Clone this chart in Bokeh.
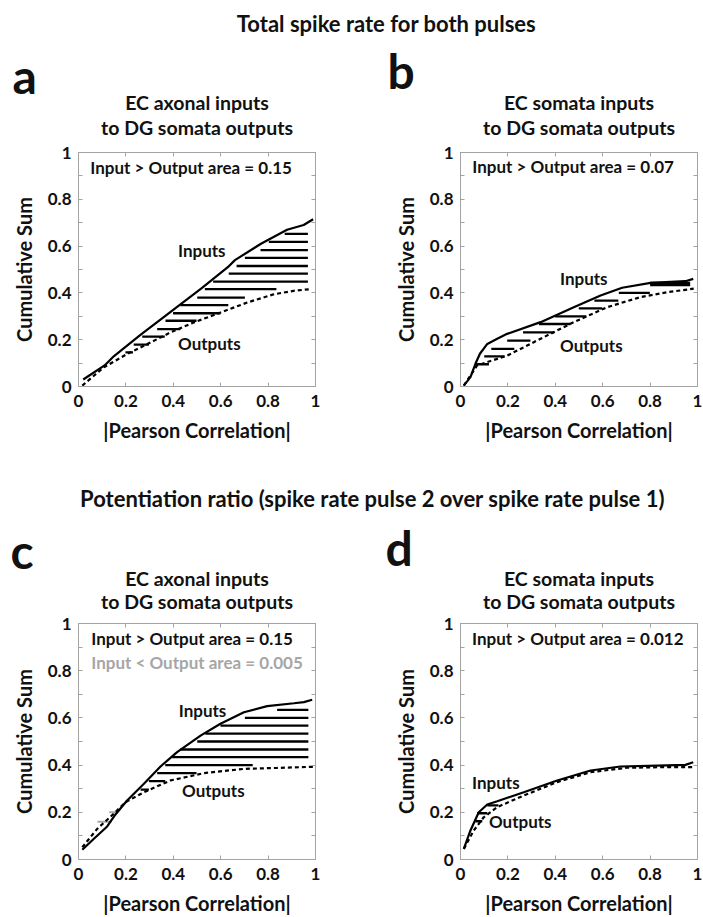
from bokeh.plotting import figure
from bokeh.layouts import column, row
from bokeh.models import Range1d, LinearAxis, FixedTicker, Label
from bokeh.embed import file_html
from bokeh.resources import INLINE

FONT = "Lato"
FRAME = "#a3a3a3"
LIGHT = "#a6a6a6"
INK = "#111111"

# ---------------- data ----------------
TICKS = [0, 0.2, 0.4, 0.6, 0.8, 1]
TICK_LABELS = ["0", "0.2", "0.4", "0.6", "0.8", "1"]
MINOR_Y = [0.1, 0.3, 0.5, 0.7, 0.9]

TITLE_TOP = "Total spike rate for both pulses"
TITLE_BOTTOM = "Potentiation ratio (spike rate pulse 2 over spike rate pulse 1)"
SUB_AXONAL = ["EC axonal inputs", "to DG somata outputs"]
SUB_SOMATA = ["EC somata inputs", "to DG somata outputs"]
X_LABEL = "|Pearson Correlation|"
Y_LABEL = "Cumulative Sum"

# panel a
a_in_x = [0.02, 0.11, 0.15, 0.26, 0.39, 0.52, 0.63, 0.66, 0.77, 0.88, 0.95, 0.99]
a_in_y = [0.03, 0.09, 0.13, 0.22, 0.32, 0.42, 0.51, 0.54, 0.61, 0.67, 0.69, 0.715]
a_out_x = [0.016, 0.107, 0.205, 0.276, 0.388, 0.487, 0.599, 0.712, 0.824, 0.908, 0.979]
a_out_y = [0.004, 0.082, 0.139, 0.174, 0.231, 0.274, 0.316, 0.359, 0.394, 0.409, 0.416]
a_hatch_y = [0.146, 0.179, 0.213, 0.245, 0.281, 0.313, 0.348, 0.380, 0.416, 0.448, 0.482, 0.515, 0.550, 0.583, 0.618, 0.652]
a_hatch_x0 = [0.198, 0.233, 0.269, 0.332, 0.367, 0.399, 0.430, 0.501, 0.533, 0.568, 0.634, 0.667, 0.702, 0.768, 0.803, 0.870]
a_hatch_x1 = [0.230, 0.297, 0.364, 0.430, 0.498, 0.599, 0.632, 0.702, 0.835, 0.968, 0.968, 0.968, 0.968, 0.968, 0.968, 0.968]

# panel b
b_in_x = [0.014, 0.042, 0.063, 0.082, 0.113, 0.155, 0.197, 0.338, 0.478, 0.591, 0.682, 0.802, 0.949, 0.982]
b_in_y = [0.004, 0.04, 0.097, 0.14, 0.182, 0.204, 0.225, 0.275, 0.339, 0.389, 0.422, 0.443, 0.45, 0.46]
b_out_x = [0.014, 0.07, 0.197, 0.338, 0.478, 0.619, 0.759, 0.872, 0.984]
b_out_y = [0.004, 0.09, 0.132, 0.204, 0.275, 0.339, 0.382, 0.403, 0.418]
b_hatch_y = [0.095, 0.129, 0.161, 0.196, 0.231, 0.267, 0.300, 0.334, 0.367, 0.400, 0.433, 0.443]
b_hatch_x0 = [0.066, 0.100, 0.130, 0.197, 0.264, 0.331, 0.399, 0.499, 0.565, 0.668, 0.800, 0.800]
b_hatch_x1 = [0.120, 0.186, 0.227, 0.295, 0.395, 0.464, 0.531, 0.598, 0.666, 0.799, 0.969, 0.969]

# panel c
c_in_x = [0.016, 0.065, 0.121, 0.156, 0.205, 0.276, 0.346, 0.416, 0.515, 0.599, 0.698, 0.796, 0.909, 0.951, 0.986]
c_in_y = [0.041, 0.088, 0.14, 0.191, 0.25, 0.321, 0.394, 0.455, 0.525, 0.575, 0.624, 0.65, 0.662, 0.667, 0.677]
c_out_x = [0.016, 0.079, 0.149, 0.198, 0.276, 0.388, 0.529, 0.698, 0.838, 0.993]
c_out_y = [0.052, 0.13, 0.194, 0.243, 0.285, 0.335, 0.366, 0.384, 0.388, 0.393]
c_hatch_y = [0.296, 0.332, 0.366, 0.400, 0.434, 0.466, 0.500, 0.533, 0.567, 0.600, 0.634]
c_hatch_x0 = [0.262, 0.297, 0.332, 0.366, 0.395, 0.430, 0.501, 0.535, 0.599, 0.702, 0.838]
c_hatch_x1 = [0.297, 0.366, 0.498, 0.735, 0.970, 0.970, 0.970, 0.970, 0.970, 0.970, 0.970]
c_ghatch_y = [0.16, 0.20]
c_ghatch_x0 = [0.08, 0.13]
c_ghatch_x1 = [0.14, 0.16]

# panel d
d_in_x = [0.014, 0.042, 0.077, 0.113, 0.155, 0.267, 0.408, 0.549, 0.675, 0.83, 0.949, 0.982]
d_in_y = [0.045, 0.123, 0.2, 0.233, 0.247, 0.285, 0.335, 0.377, 0.394, 0.398, 0.401, 0.412]
d_out_x = [0.014, 0.056, 0.098, 0.155, 0.267, 0.408, 0.549, 0.703, 0.844, 0.984]
d_out_y = [0.045, 0.123, 0.179, 0.222, 0.271, 0.328, 0.37, 0.389, 0.391, 0.391]
d_hatch_y = [0.162, 0.196, 0.229]
d_hatch_x0 = [0.063, 0.070, 0.113]
d_hatch_x1 = [0.092, 0.113, 0.160]


def hide_labels(ax):
    ax.major_label_text_font_size = "0px"
    ax.major_label_text_alpha = 0
    ax.major_label_standoff = 0


def style_ticks(ax):
    ax.axis_line_color = FRAME
    ax.major_tick_line_color = FRAME
    ax.minor_tick_line_color = FRAME
    ax.major_tick_in = 4
    ax.major_tick_out = 0
    ax.minor_tick_in = 4
    ax.minor_tick_out = 0


def style_axis(ax, label, standoff, label_standoff):
    ax.major_label_text_font = FONT
    ax.major_label_text_font_style = "bold"
    ax.major_label_text_font_size = "17px"
    ax.major_label_text_color = INK
    ax.major_label_standoff = standoff
    ax.axis_label = label
    ax.axis_label_text_font = FONT
    ax.axis_label_text_font_style = "bold"
    ax.axis_label_text_font_size = "20px"
    ax.axis_label_text_color = INK
    ax.axis_label_standoff = label_standoff


def make_panel(width, height, left, right, top, bottom,
               in_x, in_y, out_x, out_y, hy, hx0, hx1,
               inp_xy, out_xy, areas, ghatch=None):
    p = figure(width=width, height=height, x_range=Range1d(0, 1), y_range=Range1d(0, 1),
               output_backend="svg", toolbar_location=None,
               min_border_left=left, min_border_right=right,
               min_border_top=top, min_border_bottom=bottom)
    p.grid.visible = False
    p.outline_line_color = FRAME
    p.outline_line_width = 1
    labels = dict(zip(TICKS, TICK_LABELS))

    xa = p.xaxis[0]
    xa.ticker = FixedTicker(ticks=TICKS)
    xa.major_label_overrides = labels
    style_ticks(xa)
    style_axis(xa, X_LABEL, 8, 8)

    ya = p.yaxis[0]
    ya.ticker = FixedTicker(ticks=TICKS, minor_ticks=MINOR_Y)
    ya.major_label_overrides = labels
    style_ticks(ya)
    style_axis(ya, Y_LABEL, 7, 9)

    top_ax = LinearAxis(ticker=FixedTicker(ticks=TICKS))
    style_ticks(top_ax)
    hide_labels(top_ax)
    p.add_layout(top_ax, "above")
    right_ax = LinearAxis(ticker=FixedTicker(ticks=TICKS, minor_ticks=MINOR_Y))
    style_ticks(right_ax)
    hide_labels(right_ax)
    p.add_layout(right_ax, "right")

    # hatch
    p.segment(x0=hx0, y0=hy, x1=hx1, y1=hy, line_color="black", line_width=2.3)
    if ghatch is not None:
        gy, gx0, gx1 = ghatch
        p.segment(x0=gx0, y0=gy, x1=gx1, y1=gy, line_color=LIGHT, line_width=2)
    # curves
    p.line(out_x, out_y, line_color="black", line_width=2.2, line_dash="4 3")
    p.line(in_x, in_y, line_color="black", line_width=2.2)

    def lab(x, y, text, color=INK):
        p.add_layout(Label(x=x, y=y, text=text, text_font=FONT, text_font_style="bold",
                           text_font_size="17px", text_color=color,
                           text_align="left", text_baseline="middle"))

    lab(inp_xy[0], inp_xy[1], "Inputs")
    lab(out_xy[0], out_xy[1], "Outputs")
    for (ax_, ay_, t, col) in areas:
        lab(ax_, ay_, t, color=col)
    return p


def header(height, texts):
    # texts: (x_px, y_px_from_top, text, size, align)
    h = figure(width=703, height=height, x_range=Range1d(0, 703), y_range=Range1d(0, height),
               output_backend="svg", toolbar_location=None, min_border=0,
               x_axis_location=None, y_axis_location=None)
    h.grid.visible = False
    h.outline_line_color = None
    for (x, y, t, size, align) in texts:
        h.add_layout(Label(x=x, y=height - y, text=t, text_font=FONT, text_font_style="bold",
                           text_font_size=size, text_color=INK,
                           text_align=align, text_baseline="middle"))
    return h


SUB = "19.5px"
LET = "48px"
H1 = 142
h1 = header(H1, [
    (386, 23, TITLE_TOP, "22px", "center"),
    (12, 75, "a", LET, "left"),
    (387, 70, "b", LET, "left"),
    (196.5, 102, SUB_AXONAL[0], SUB, "center"),
    (196.5, 127, SUB_AXONAL[1], SUB, "center"),
    (578.5, 102, SUB_SOMATA[0], SUB, "center"),
    (578.5, 127, SUB_SOMATA[1], SUB, "center"),
])
H2 = 143
h2 = header(H2, [
    (372, 28, TITLE_BOTTOM, "22px", "center"),
    (10, 80, "c", LET, "left"),
    (385, 77, "d", LET, "left"),
    (196.5, 108, SUB_AXONAL[0], SUB, "center"),
    (196.5, 131, SUB_AXONAL[1], SUB, "center"),
    (578.5, 108, SUB_SOMATA[0], SUB, "center"),
    (578.5, 131, SUB_SOMATA[1], SUB, "center"),
])

pa = make_panel(351, 328, 78, 36, 10, 84,
                a_in_x, a_in_y, a_out_x, a_out_y, a_hatch_y, a_hatch_x0, a_hatch_x1,
                (0.42, 0.583), (0.42, 0.183),
                [(0.05, 0.936, "Input > Output area = 0.15", INK)])
pb = make_panel(352, 328, 109, 6, 10, 84,
                b_in_x, b_in_y, b_out_x, b_out_y, b_hatch_y, b_hatch_x0, b_hatch_x1,
                (0.42, 0.463), (0.42, 0.175),
                [(0.05, 0.94, "Input > Output area = 0.07", INK)])
pc = make_panel(351, 304, 78, 36, 10, 58,
                c_in_x, c_in_y, c_out_x, c_out_y, c_hatch_y, c_hatch_x0, c_hatch_x1,
                (0.423, 0.631), (0.437, 0.292),
                [(0.054, 0.935, "Input > Output area = 0.15", INK),
                 (0.054, 0.836, "Input < Output area = 0.005", LIGHT)],
                ghatch=(c_ghatch_y, c_ghatch_x0, c_ghatch_x1))
pd = make_panel(352, 304, 109, 6, 10, 58,
                d_in_x, d_in_y, d_out_x, d_out_y, d_hatch_y, d_hatch_x0, d_hatch_x1,
                (0.049, 0.328), (0.12, 0.162),
                [(0.049, 0.935, "Input > Output area = 0.012", INK)])

layout = column(h1, row(pa, pb), h2, row(pc, pd))
open("out.html", "w").write(file_html(layout, INLINE))
